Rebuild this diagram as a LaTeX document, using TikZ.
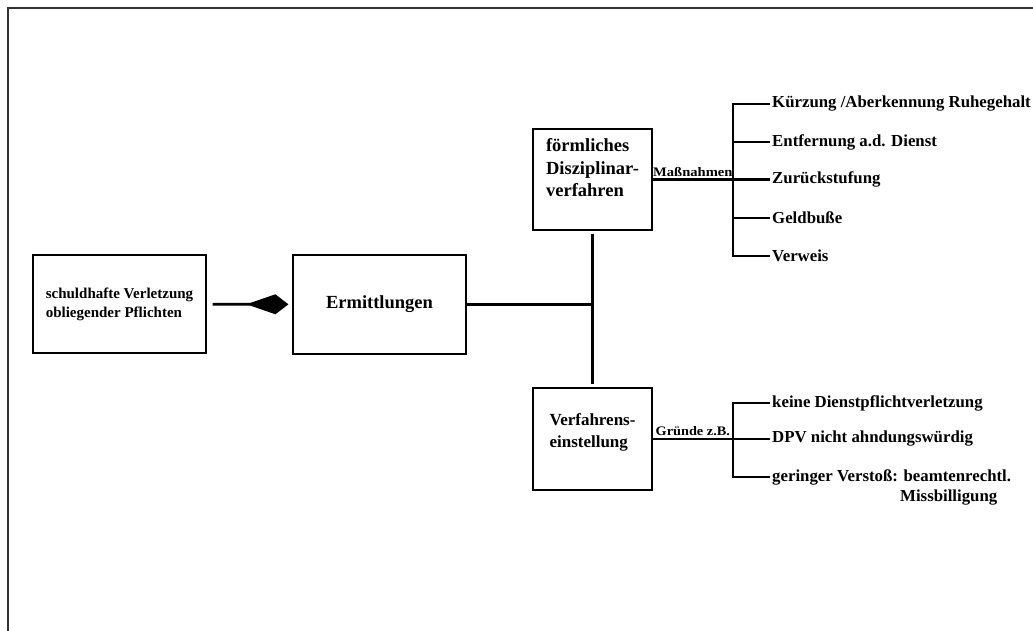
\documentclass[tikz,border=0pt]{standalone}
\usepackage{fontspec}
\setmainfont{Liberation Serif}
\usetikzlibrary{arrows.meta}

\begin{document}
\begin{tikzpicture}[x=1pt,y=-1pt,
    box/.style={draw,line width=1.2pt,inner sep=0pt,align=left},
    conn/.style={line width=2.8pt},
    lab/.style={anchor=west,inner sep=2pt,font=\fontsize{16.8}{20}\selectfont\bfseries},
    tag/.style={above,inner sep=1.5pt,font=\fontsize{13}{15}\selectfont\bfseries}]
      \useasboundingbox (0,0) rectangle (1033,631);
      \draw[line width=1.4pt,black!80] (8,631) -- (8,8) -- (1033,8);

      \node[box,minimum width=173pt,minimum height=98pt,font=\fontsize{15}{19}\selectfont\bfseries] (pflicht) at (119.5,304) {schuldhafte Verletzung\\obliegender Pflichten};
      \node[box,minimum width=173pt,minimum height=99pt,font=\fontsize{18.5}{22}\selectfont\bfseries] (ermitt) at (379.5,304.5) {Ermittlungen};
      \node[box,minimum width=119pt,minimum height=101pt,text depth=24pt,font=\fontsize{18.5}{22.5}\selectfont\bfseries] (formal) at (592.5,179.5) {förmliches\\Disziplinar-\\verfahren};
      \node[box,minimum width=119pt,minimum height=102pt,text depth=17pt,font=\fontsize{17}{21.5}\selectfont\bfseries] (einst) at (592.5,439) {Verfahrens-\\einstellung};

      \coordinate (mBr) at (733,179.5);
      \coordinate (gBr) at (733,439);

      \node[lab] (kuerz) at (770,104) {Kürzung /Aberkennung Ruhegehalt};
      \node[lab] (entf) at (770,142) {Entfernung a.d. Dienst};
      \node[lab] (zurueck) at (770,179.5) {Zurückstufung};
      \node[lab] (geld) at (770,218) {Geldbuße};
      \node[lab] (verweis) at (770,256) {Verweis};

      \node[lab] (keine) at (770,403) {keine Dienstpflichtverletzung};
      \node[lab] (dpv) at (770,439) {DPV nicht ahndungswürdig};
      \coordinate (gering) at (770,477);
      \node[lab,anchor=north west,align=left] (geringtxt) at (770,467) {geringer Verstoß: beamtenrechtl.\\\hspace*{128pt}Missbilligung};

      \path[conn,-{Kite[length=42pt,width=20pt,inset=29pt]},shorten <=6pt,shorten >=4pt] (pflicht) edge (ermitt);
      \path[conn] (ermitt) edge (ermitt -| formal);
      \path[conn,shorten <=3pt,shorten >=3pt] (formal) edge (einst);

      \path[conn] (formal) edge node[tag] (massn) {\scalebox{1.12}[1]{Maßnahmen}} (mBr);
      \path[conn] (einst) edge node[tag] (gruende) {\scalebox{1.1}[1]{Gründe z.B.}} (gBr);

      \draw[conn] (mBr) |- (kuerz.west);
      \draw[conn] (mBr) |- (entf.west);
      \draw[conn] (mBr) |- (zurueck.west);
      \draw[conn] (mBr) |- (geld.west);
      \draw[conn] (mBr) |- (verweis.west);

      \draw[conn] (gBr) |- (keine.west);
      \draw[conn] (gBr) |- (dpv.west);
      \draw[conn] (gBr) |- (gering);
\end{tikzpicture}
\end{document}
